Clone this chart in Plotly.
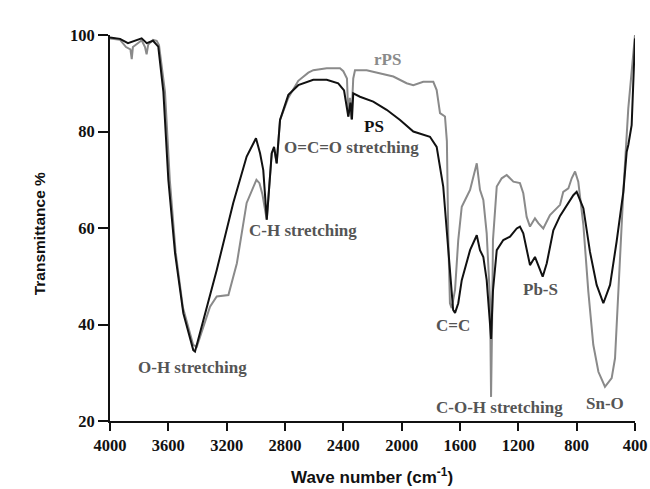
import plotly.graph_objects as go

# PS (black) spectrum: wavenumber (cm-1), transmittance (%)
ps_wn = [4000, 3931, 3877, 3829, 3783, 3748, 3705, 3669, 3634, 3600, 3554, 3497, 3429, 3417,
         3360, 3268, 3155, 3063, 2999, 2971, 2949, 2925, 2891, 2875, 2857, 2834, 2777, 2709,
         2606, 2514, 2435, 2395, 2366, 2351, 2341, 2332, 2286, 2195, 2103, 2011, 1920, 1852,
         1806, 1760, 1715, 1680, 1647, 1634, 1612, 1588, 1554, 1531, 1485, 1463, 1440, 1417,
         1394, 1387, 1374, 1348, 1303, 1257, 1211, 1189, 1166, 1143, 1120, 1086, 1063, 1033,
         1005, 960, 914, 868, 823, 800, 754, 709, 663, 617, 571, 526, 480, 457, 446, 423, 400]
ps_t = [99.5, 99.2, 98.3, 98.8, 99.3, 98.3, 98.8, 97.6, 88.2, 70.0, 54.8, 42.3, 34.7, 34.4,
        41.0, 51.3, 65.2, 74.8, 78.6, 75.5, 72.0, 61.7, 75.5, 76.8, 73.4, 82.4, 87.6, 89.6,
        90.7, 90.7, 90.0, 88.5, 83.1, 86.0, 82.5, 87.9, 87.2, 86.2, 84.5, 82.4, 80.0, 79.3,
        78.9, 76.8, 68.6, 55.4, 43.0, 42.4, 44.4, 49.2, 52.7, 55.4, 58.5, 55.4, 54.0, 49.2,
        40.0, 37.0, 47.0, 55.4, 57.5, 58.2, 59.9, 60.3, 58.9, 55.4, 52.3, 54.0, 52.3, 49.9,
        52.7, 59.5, 62.5, 64.6, 66.8, 67.5, 64.1, 55.1, 48.2, 44.4, 48.2, 57.2, 67.5, 75.8,
        77.2, 81.3, 99.3]

# rPS (grey) spectrum
rps_wn = [4000, 3931, 3890, 3860, 3851, 3843, 3800, 3783, 3760, 3749, 3738, 3705, 3680, 3664,
          3623, 3590, 3550, 3500, 3430, 3405, 3314, 3268, 3188, 3130, 3063, 2996, 2975, 2955,
          2925, 2891, 2875, 2857, 2834, 2777, 2709, 2640, 2606, 2514, 2423, 2400, 2375, 2366,
          2355, 2345, 2332, 2320, 2240, 2149, 2057, 1966, 1920, 1852, 1783, 1760, 1737, 1703,
          1690, 1680, 1669, 1657, 1634, 1612, 1588, 1565, 1531, 1485, 1463, 1440, 1417, 1394,
          1387, 1380, 1374, 1348, 1314, 1280, 1234, 1189, 1166, 1143, 1120, 1086, 1063, 1029,
          983, 914, 892, 857, 834, 811, 789, 754, 720, 686, 651, 606, 560, 537, 515, 480,
          446, 400]
rps_t = [99.3, 99.0, 97.5, 97.0, 95.0, 97.5, 98.5, 98.9, 97.5, 96.0, 98.0, 99.0, 98.8, 97.9,
         88.2, 70.0, 55.0, 43.5, 35.8, 35.4, 43.7, 45.8, 46.1, 52.7, 65.2, 70.0, 69.3, 67.0,
         61.7, 75.5, 76.5, 73.4, 82.4, 87.0, 90.5, 92.2, 92.7, 93.1, 93.1, 92.5, 91.0, 83.1,
         87.0, 82.5, 91.0, 92.7, 92.7, 92.0, 91.4, 90.0, 89.6, 90.3, 90.3, 88.6, 83.8, 83.1,
         78.0, 57.5, 44.4, 43.4, 47.2, 57.5, 64.4, 65.8, 67.9, 73.4, 67.9, 65.8, 58.9, 45.0,
         25.0, 40.0, 57.5, 68.6, 70.3, 71.0, 69.6, 69.3, 67.2, 62.3, 60.3, 62.0, 61.0, 59.9,
         62.7, 64.8, 67.5, 68.2, 70.3, 71.7, 69.6, 60.6, 46.8, 35.8, 30.2, 27.1, 28.9, 33.0,
         46.8, 67.5, 84.8, 100.0]

x_ticks = [4000, 3600, 3200, 2800, 2400, 2000, 1600, 1200, 800, 400]
y_ticks = [20, 40, 60, 80, 100]

labels = ["O-H stretching", "C-H stretching", "O=C=O stretching", "PS", "rPS",
          "C=C", "C-O-H stretching", "Pb-S", "Sn-O"]
label_wn = [3431, 2677, 2341, 2190, 2094, 1648, 1326, 1051, 606]
label_t = [31.0, 59.4, 76.6, 81.1, 95.0, 39.7, 22.9, 47.2, 23.7]
label_col = ["#555555", "#555555", "#555555", "#111111", "#8a8a8a",
             "#555555", "#555555", "#555555", "#555555"]

fig = go.Figure()
fig.add_trace(go.Scatter(x=rps_wn, y=rps_t, mode="lines", name="rPS",
                         line=dict(color="#8a8a8a", width=2)))
fig.add_trace(go.Scatter(x=ps_wn, y=ps_t, mode="lines", name="PS",
                         line=dict(color="#111111", width=2)))

for txt, xx, yy, c in zip(labels, label_wn, label_t, label_col):
    fig.add_annotation(x=xx, y=yy, xref="x", yref="y", text=txt, showarrow=False,
                       font=dict(family="Liberation Serif", size=17, color=c, weight="bold"))

# axis titles
fig.add_annotation(x=0.499, y=-0.143, xref="paper", yref="paper",
                   text="Wave number (cm<sup>-1</sup>)", showarrow=False,
                   xanchor="center", yanchor="middle",
                   font=dict(family="Liberation Sans", size=17, color="#111111", weight="bold"))
fig.add_annotation(x=-0.135, y=0.484, xref="paper", yref="paper",
                   text="Transmittance %", showarrow=False, textangle=-90,
                   xanchor="center", yanchor="middle",
                   font=dict(family="Liberation Sans", size=15.5, color="#111111", weight="bold"))

tickfont = dict(family="Liberation Serif", size=16.5, color="#111111", weight="bold")

fig.update_layout(
    width=650, height=489,
    margin=dict(l=110, r=15, t=35, b=68),
    paper_bgcolor="white", plot_bgcolor="white",
    showlegend=False,
    xaxis=dict(range=[4000, 400], tickvals=x_ticks, ticktext=[str(v) for v in x_ticks],
               showgrid=False, zeroline=False, showline=True, linecolor="#111111",
               linewidth=2, ticks="outside", ticklen=8, tickwidth=2, tickcolor="#111111",
               tickfont=tickfont, automargin=False),
    yaxis=dict(range=[20, 100], tickvals=y_ticks, showgrid=False, zeroline=False,
               showline=True, linecolor="#111111", linewidth=2, ticks="outside",
               ticklen=10, tickwidth=2, tickcolor="#111111", tickfont=tickfont,
               automargin=False),
)

fig.write_html("out.html")
